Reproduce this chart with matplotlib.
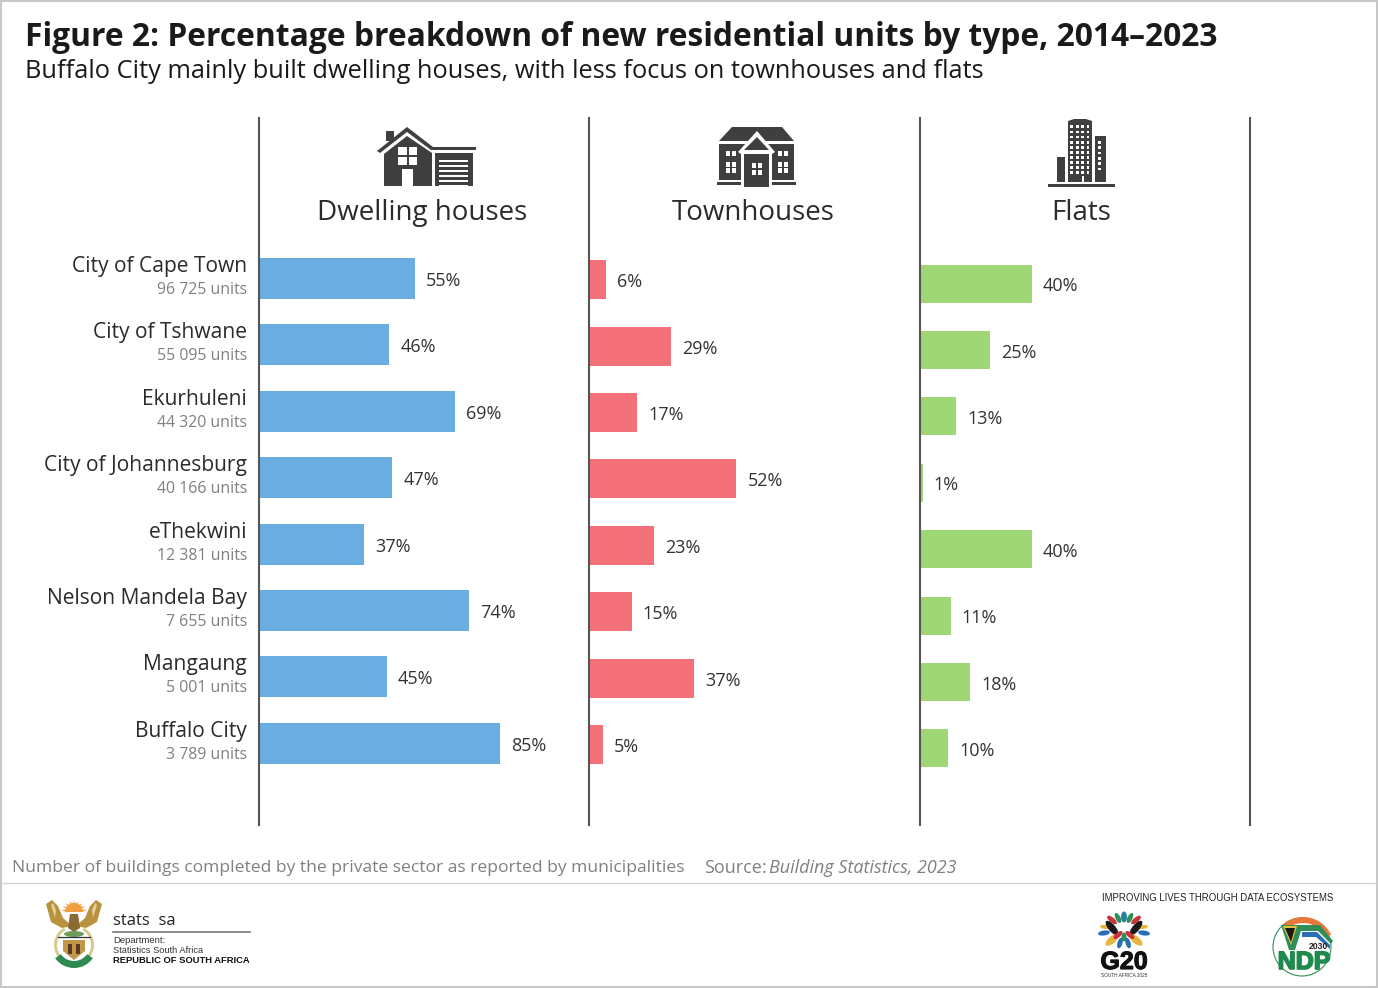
#------------------------------------------------------------------------------
# Figure 2: new residential units by type, 2014-2023
#------------------------------------------------------------------------------
import numpy as np
import matplotlib
matplotlib.use("Agg")
import matplotlib.pyplot as plt
import matplotlib.patheffects as pe
from matplotlib.patches import Polygon, Rectangle, Ellipse, Wedge, Circle

# Data
metros = ["City of Cape Town", "City of Tshwane", "Ekurhuleni", "City of Johannesburg",
          "eThekwini", "Nelson Mandela Bay", "Mangaung", "Buffalo City"]
units = ["96 725 units", "55 095 units", "44 320 units", "40 166 units",
         "12 381 units", "7 655 units", "5 001 units", "3 789 units"]
dwelling_houses = [55, 46, 69, 47, 37, 74, 45, 85]
townhouses = [6, 29, 17, 52, 23, 15, 37, 5]
flats = [40, 25, 13, 1, 40, 11, 18, 10]
panel_titles = ["Dwelling houses", "Townhouses", "Flats"]

W, H = 1378, 988
PX = 0.72  # points per pixel at dpi 100
DARK = "#3f3f3f"
plt.rcParams["font.family"] = ["Open Sans", "DejaVu Sans"]

fig = plt.figure(figsize=(W / 100, H / 100), dpi=100, facecolor="white")

# Overlay in pixel coordinates for the text, icons and logos
over = fig.add_axes([0, 0, 1, 1], zorder=5)
over.set_xlim(0, W)
over.set_ylim(H, 0)
over.axis("off")
over.patch.set_alpha(0)


def bar_panel(left, values, color, first_y, bar_h, xmax):
    # axes runs from y=118 to y=825 in pixels, row spacing is 66.4 px
    ax = fig.add_axes([left / W, 1 - 825 / H, 330 / W, (825 - 118) / H])
    ax.patch.set_alpha(0)
    ax.barh(range(len(values)), values, height=bar_h / 66.4, color=color)
    ax.set_xlim(0, xmax)
    ax.set_ylim((825 - first_y) / 66.4, (118 - first_y) / 66.4)
    ax.set_xticks([])
    ax.set_yticks([])
    for s in ["top", "bottom", "right"]:
        ax.spines[s].set_visible(False)
    ax.spines["left"].set_linewidth(1.5)
    ax.spines["left"].set_color("#555555")
    for i, v in enumerate(values):
        ax.annotate("{}%".format(v), xy=(v, i), xytext=(11 * PX, -2.5 * PX), textcoords="offset points",
                    va="center", ha="left", fontsize=13, color="#333333")
    return ax


ax1 = bar_panel(259, dwelling_houses, "#6aade0", 278.4, 41, 116.4)
ax2 = bar_panel(589, townhouses, "#f4717a", 279.6, 39, 116.4)
ax3 = bar_panel(920, flats, "#9fd676", 283.6, 38, 117.9)
ax3.spines["right"].set_visible(True)
ax3.spines["right"].set_linewidth(1.5)
ax3.spines["right"].set_color("#555555")

# Row labels
for i in range(len(metros)):
    ax1.annotate(metros[i], xy=(0, i), xytext=(-12 * PX, 12 * PX), textcoords="offset points",
                 va="center", ha="right", fontsize=15.1, color="#2b2b2b")
    ax1.annotate(units[i], xy=(0, i), xytext=(-12 * PX, -11.5 * PX), textcoords="offset points",
                 va="center", ha="right", fontsize=11.4, color="#808080")

# Panel titles
for x, t in zip([422, 753, 1081], panel_titles):
    over.text(x, 213, t, ha="center", va="center", fontsize=20, color="#2b2b2b")

# Headline
over.text(25, 37, "Figure 2: Percentage breakdown of new residential units by type, 2014\u20132023",
          fontsize=22.9, fontweight="bold", va="center", color="#1a1a1a")
over.text(25, 72, "Buffalo City mainly built dwelling houses, with less focus on townhouses and flats",
          fontsize=18.3, va="center", color="#1a1a1a")

# Footnote
over.text(12, 868, "Number of buildings completed by the private sector as reported by municipalities",
          fontsize=12.6, va="center", color="#808080")
over.text(704, 868, "Source:", fontsize=13, va="center", color="#808080")
over.text(769, 868, "Building Statistics, 2023", fontsize=13, va="center", color="#808080", style="italic")

# Frame and footer rule
over.add_patch(Rectangle((1, 1), W - 2, H - 2, fill=False, ec="#c8c8c8", lw=1.5))
over.plot([2, W - 2], [883, 883], color="#d4d4d4", lw=1)


def poly(pts, color=DARK):
    over.add_patch(Polygon(pts, closed=True, fc=color, ec="none"))


def rect(x0, y0, x1, y1, color=DARK):
    over.add_patch(Rectangle((x0, y0), x1 - x0, y1 - y0, fc=color, ec="none"))


# Icon: dwelling house
rect(386, 131, 394, 141)
poly([(377, 151), (407, 127), (433, 147), (476, 147), (476, 150), (431, 150), (407, 132), (380, 153)])
poly([(384, 154), (407, 136), (432, 153), (432, 186), (384, 186)])
rect(398, 147, 417, 165, "white")
rect(407, 147, 409, 165)
rect(398, 155, 417, 157)
rect(402, 169, 413, 186, "white")
rect(435, 153, 473, 186)
rect(439, 160, 468, 186, "white")
for y in [162, 167, 172, 177, 182]:
    rect(439, y, 468, y + 3, DARK)

# Icon: townhouse
poly([(719, 141), (732, 127), (782, 127), (794, 141)])
rect(719, 144, 794, 180)
poly([(757, 131), (775, 152), (772, 154), (772, 187), (741, 187), (741, 154), (738, 152)], "white")
poly([(757, 137), (769, 150), (744, 150)])
rect(744, 154, 769, 187)
rect(717, 182, 741, 185)
rect(772, 182, 796, 185)
for x0 in [726, 778]:
    rect(x0, 151, x0 + 9.5, 156, "white")
    rect(x0, 162, x0 + 9.5, 173, "white")
    rect(x0 + 4, 150, x0 + 5.5, 174)
    rect(x0, 167, x0 + 9.5, 168.5)
rect(752, 163, 762, 175, "white")
rect(756, 163, 757.5, 175)
rect(752, 168.5, 762, 170)

# Icon: flats
rect(1068, 121, 1092, 182)
poly([(1068, 121), (1074, 119), (1086, 119), (1092, 121)])
rect(1095, 136, 1106, 182)
rect(1057, 157, 1065, 182)
rect(1048, 184, 1115, 187)
for x0 in [1070, 1075.7, 1081.2, 1086.5]:
    for y0 in np.arange(125.5, 174, 5.1):
        rect(x0, y0, x0 + 2.8, y0 + 2.8, "white")
for y0 in np.arange(141, 170, 5.3):
    rect(1098, y0, 1101, y0 + 2.8, "white")
rect(1082, 176, 1084, 182, "white")

# Logo: coat of arms
over.add_patch(Wedge((74, 912), 9, 180, 360, fc="#ef9f3f", ec="none"))
for ang in np.arange(190, 360, 20):
    a = np.radians(ang)
    poly([(74 + 8 * np.cos(a - 0.12), 912 + 8 * np.sin(a - 0.12)),
          (74 + 8 * np.cos(a + 0.12), 912 + 8 * np.sin(a + 0.12)),
          (74 + 13.5 * np.cos(a), 912 + 11.5 * np.sin(a))], "#ef9f3f")
for sign in [-1, 1]:
    poly([(74 + sign * 28, 904), (74 + sign * 22, 900), (74 + sign * 16, 906), (74 + sign * 11, 918),
          (74 + sign * 2, 926), (74 + sign * 12, 928), (74 + sign * 23, 922)], "#b8923f")
    poly([(74 + sign * 23, 905), (74 + sign * 21, 903), (74 + sign * 18, 910), (74 + sign * 19, 918)], "#e3cf98")
poly([(70, 914), (78, 914), (80, 928), (74, 932), (68, 928)], "#8a6a35")
over.add_patch(Wedge((74, 945), 20, -60, 240, width=3, fc="#d9c98f", ec="none"))
over.add_patch(Wedge((74, 945), 23, 35, 145, width=7, fc="#2f8a52", ec="none"))
over.add_patch(Ellipse((74, 934), 20, 6, fc="#6f9b5d", ec="none"))
over.plot([58, 90], [937, 937], color="#333333", lw=0.9)
poly([(63, 940), (85, 940), (85, 951), (74, 960), (63, 951)], "#c2964a")
rect(68, 944, 72, 954, "#5a3a1c")
rect(76, 944, 80, 954, "#5a3a1c")

# Logo: stats sa block
over.text(113, 921, "stats  sa", fontsize=12, va="center", color="#222222", fontweight="medium")
over.plot([113, 250], [932, 932], color="#777777", lw=1.2)
over.text(113, 940, "Department:", fontsize=6.8, va="center", family="Liberation Sans", color="#333333")
over.text(113, 950, "Statistics South Africa", fontsize=6.7, va="center", family="Liberation Sans", color="#333333")
over.text(113, 960, "REPUBLIC OF SOUTH AFRICA", fontsize=6.75, va="center", family="Liberation Sans",
          fontweight="bold", color="#111111")

# Logo: G20
over.text(1218, 898, "IMPROVING LIVES THROUGH DATA ECOSYSTEMS", fontsize=6.95, ha="center", va="center",
          family="Liberation Sans", color="#222222")
petals = [(0, -13, 11, 6, "#2a7fa5"), (-6, -12, 11, 5, "#2f8f57"), (6, -12, 11, 5, "#2f8f57"),
          (-12, -10, 12, 5, "#c8323c"), (12, -10, 12, 5, "#c8323c"),
          (-19, -3, 10, 4, "#e8b63c"), (19, -3, 10, 4, "#e8b63c"),
          (-12, -2, 18, 7, "#1a1a1a"), (12, -2, 18, 7, "#1a1a1a"),
          (-20, 3, 12, 5, "#2a6fb5"), (20, 3, 12, 5, "#2a6fb5"),
          (-12, 10, 16, 7, "#e8b63c"), (12, 10, 16, 7, "#e8b63c"),
          (-6, 5, 11, 5, "#c8323c"), (6, 5, 11, 5, "#c8323c"),
          (-4, 13, 11, 5, "#2a6fb5"), (4, 13, 11, 5, "#2a6fb5"), (0, 7, 9, 5, "#2f8f57")]
for dx, dy, ln, wd, col in petals:
    ang = np.degrees(np.arctan2(dy, dx))
    if col == "#1a1a1a":
        ang = -50 if dx > 0 else -130  # black petals lean inward
    over.add_patch(Ellipse((1124 + dx, 930 + dy), ln, wd, angle=ang, fc=col, ec="none"))
over.text(1124, 962, "G20", fontsize=18, fontweight="bold", ha="center", va="center",
          family="Liberation Sans", color="#111111",
          path_effects=[pe.withStroke(linewidth=0.8, foreground="#111111")])
over.text(1124, 975, "SOUTH AFRICA 2025", fontsize=3.4, ha="center", va="center",
          family="Liberation Sans", color="#333333")

# Logo: NDP
over.add_patch(Circle((1302, 947), 29, fc="none", ec="#2f8f57", lw=0.8))
over.add_patch(Wedge((1303, 948), 31, 225, 335, width=6, fc="#e8773a", ec="none"))
poly([(1281, 925), (1320, 925), (1333, 941), (1331, 944), (1318, 931), (1301, 931), (1295, 950), (1289, 950)], "#2f8f57")
poly([(1302, 932), (1317, 932), (1330, 945), (1330, 949), (1316, 937), (1302, 937)], "#2a6fb5")
poly([(1283, 926), (1297, 926), (1291, 945)], "#e8c23c")
poly([(1285, 928), (1295, 928), (1291, 942)], "#1a1a1a")
over.text(1318, 946, "2030", fontsize=6.2, fontweight="bold", ha="center", va="center",
          family="Liberation Sans", color="#222222")
over.text(1304, 962, "NDP", fontsize=18, fontweight="bold", ha="center", va="center",
          family="Liberation Sans", color="#1f8a4c",
          path_effects=[pe.withStroke(linewidth=1.2, foreground="#1f8a4c")])

fig.savefig("out.png", dpi=100)
